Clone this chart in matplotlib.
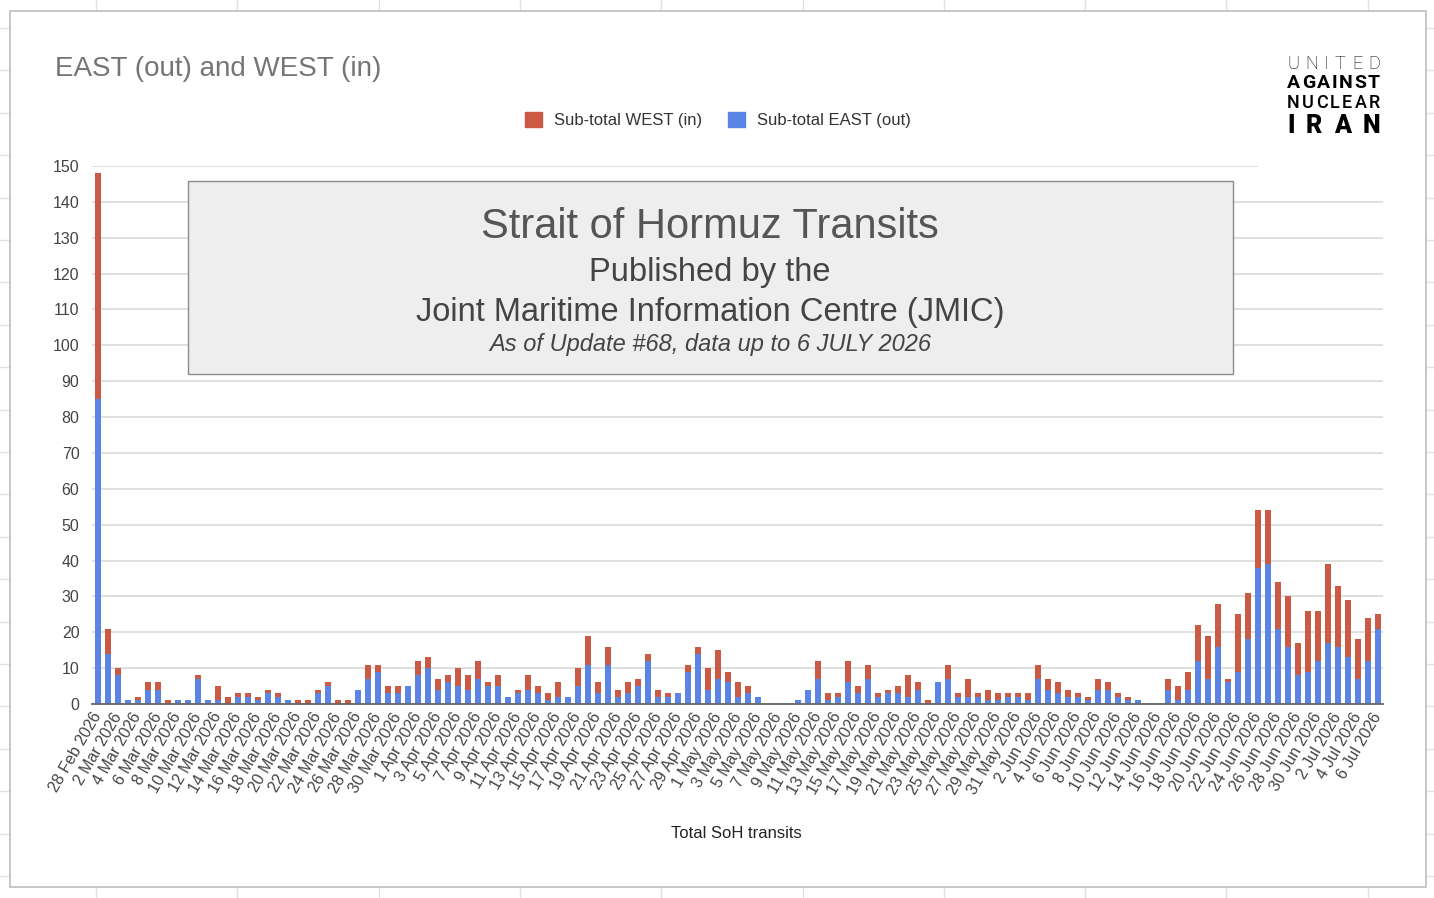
import numpy as np
import pandas as pd
import matplotlib
matplotlib.use('Agg')
import matplotlib.pyplot as plt
from matplotlib.patches import Rectangle, Patch
from matplotlib.lines import Line2D

plt.rcParams['font.family'] = ['Liberation Sans', 'DejaVu Sans']

# Data: one bar per day, 28 Feb 2026 .. 6 Jul 2026
dates = pd.date_range('2026-02-28', '2026-07-06', freq='D')
date_labels = [f"{d.day} {d.strftime('%b %Y')}" for d in dates]

east_out = [85, 14, 8, 1, 1, 4, 4, 0, 1, 1, 7, 1, 1, 0, 2, 2, 1, 3, 2, 1,
            0, 0, 3, 5, 0, 0, 4, 7, 9, 3, 3, 5, 8, 10, 4, 6, 5, 4, 7, 5,
            5, 2, 3, 4, 3, 1, 2, 2, 5, 11, 3, 11, 2, 3, 5, 12, 2, 2, 3, 9,
            14, 4, 7, 6, 2, 3, 2, 0, 0, 0, 1, 4, 7, 1, 2, 6, 3, 7, 2, 3,
            3, 2, 4, 0, 6, 7, 2, 2, 2, 1, 1, 2, 2, 1, 7, 4, 3, 2, 2, 1,
            4, 4, 2, 1, 1, 0, 0, 4, 1, 4, 12, 7, 16, 6, 9, 18, 38, 39, 21, 16,
            8, 9, 12, 17, 16, 13, 7, 12, 21]
west_in = [63, 7, 2, 0, 1, 2, 2, 1, 0, 0, 1, 0, 4, 2, 1, 1, 1, 1, 1, 0,
           1, 1, 1, 1, 1, 1, 0, 4, 2, 2, 2, 0, 4, 3, 3, 2, 5, 4, 5, 1,
           3, 0, 1, 4, 2, 2, 4, 0, 5, 8, 3, 5, 2, 3, 2, 2, 2, 1, 0, 2,
           2, 6, 8, 3, 4, 2, 0, 0, 0, 0, 0, 0, 5, 2, 1, 6, 2, 4, 1, 1,
           2, 6, 2, 1, 0, 4, 1, 5, 1, 3, 2, 1, 1, 2, 4, 3, 3, 2, 1, 1,
           3, 2, 1, 1, 0, 0, 0, 3, 4, 5, 10, 12, 12, 1, 16, 13, 16, 15, 13, 14,
           9, 17, 14, 22, 17, 16, 11, 12, 4]

y_ticks = list(range(0, 151, 10))

BLUE = '#5b85e4'
RED = '#cb5a45'

W, H = 1434, 898


def fx(px):
    return px / W


def fy(py):
    return 1 - py / H


fig = plt.figure(figsize=(W / 100, H / 100), dpi=100)

# spreadsheet cell grid behind the chart
for k in range(10):
    x = 96 + 141.3 * k
    fig.add_artist(Line2D([fx(x), fx(x)], [0, 1], color='#e2e2e2', lw=1, zorder=-3))
for k in range(21):
    y = 28 + 42.4 * k
    fig.add_artist(Line2D([0, 1], [fy(y), fy(y)], color='#e2e2e2', lw=1, zorder=-3))

# chart card
fig.add_artist(Rectangle((fx(10), fy(887)), fx(1426) - fx(10), fy(11) - fy(887),
                         transform=fig.transFigure, facecolor='white',
                         edgecolor='#bdbdbd', lw=1.2, zorder=-2))

ax = fig.add_axes([fx(92), fy(704), fx(1383) - fx(92), fy(166) - fy(704)])
ax.set_facecolor('none')

x = np.arange(len(dates))
ax.bar(x, east_out, width=0.68, color=BLUE, zorder=2)
ax.bar(x, west_in, width=0.68, bottom=east_out, color=RED, zorder=2)

ax.set_xlim(-0.6, len(dates) - 0.5)
ax.set_ylim(0, 150)
ax.set_yticks(y_ticks)
ax.grid(axis='y', color='#dcdcdc', lw=1.3)
ax.set_axisbelow(True)
for s in ['left', 'right', 'top']:
    ax.spines[s].set_visible(False)
ax.spines['bottom'].set_color('#666666')
ax.spines['bottom'].set_linewidth(1.3)
ax.spines['bottom'].set_zorder(3)

ax.tick_params(axis='y', length=0, pad=9, labelsize=11.5, labelcolor='#444444')
ax.set_xticks(x[::2])
ax.set_xticklabels(date_labels[::2])
ax.tick_params(axis='x', length=0, pad=7, labelsize=11.5, labelcolor='#444444')
for lbl in ax.get_xticklabels():
    lbl.set_rotation(60)
    lbl.set_ha('right')
    lbl.set_va('center')
    lbl.set_rotation_mode('anchor')

# titles and legend
fig.text(fx(55), fy(69), 'EAST (out) and WEST (in)', ha='left', va='center',
         fontsize=20, color='#757575')
fig.text(fx(736), fy(834), 'Total SoH transits', ha='center', va='center',
         fontsize=12, color='#222222')
handles = [Patch(color=RED, label='Sub-total WEST (in)'),
           Patch(color=BLUE, label='Sub-total EAST (out)')]
leg = fig.legend(handles=handles, loc='center', bbox_to_anchor=(fx(718), fy(120)),
                 ncol=2, frameon=False, fontsize=12, handlelength=1.0,
                 handleheight=1.0, handletextpad=0.7, columnspacing=1.6)
for t in leg.get_texts():
    t.set_color('#333333')

# overlay box
fig.add_artist(Rectangle((fx(188), fy(374)), fx(1233) - fx(188), fy(181) - fy(374),
                         transform=fig.transFigure, facecolor='#eeeeee',
                         edgecolor='#8a8a8a', lw=1, zorder=3))
fig.text(fx(710), fy(227), 'Strait of Hormuz Transits', ha='center', va='center',
         fontsize=30, color='#555555', zorder=4)
fig.text(fx(710), fy(272), 'Published by the', ha='center', va='center',
         fontsize=23.5, color='#444444', zorder=4)
fig.text(fx(710), fy(312), 'Joint Maritime Information Centre (JMIC)', ha='center',
         va='center', fontsize=23.5, color='#444444', zorder=4)
fig.text(fx(710), fy(344), 'As of Update #68, data up to 6 JULY 2026', ha='center',
         va='center', fontsize=17, style='italic', color='#444444', zorder=4)

# logo: letters spread evenly between x0 and x1
fig.add_artist(Rectangle((fx(1258), fy(172)), fx(1400) - fx(1258), fy(40) - fy(172),
                         transform=fig.transFigure, facecolor='white',
                         edgecolor='none', zorder=2))
renderer = fig.canvas.get_renderer()
logo = [('UNITED', 64, 1287, 1380, 13, 'light'),
        ('AGAINST', 83, 1287, 1380, 14, 'bold'),
        ('NUCLEAR', 103, 1287, 1380, 13, 'medium'),
        ('IRAN', 126, 1287, 1380, 18, 'black')]
for word, yy, x0, x1, size, weight in logo:
    chars = []
    for ch in word:
        t = fig.text(0, 0, ch, ha='left', va='center', fontsize=size,
                     fontweight=weight, family=['Roboto', 'DejaVu Sans'],
                     color='black', zorder=4)
        chars.append((t, t.get_window_extent(renderer).width))
    gap = (x1 - x0 - sum(w for _, w in chars)) / (len(chars) - 1)
    pos = x0
    for t, w in chars:
        t.set_position((fx(pos), fy(yy)))
        pos += w + gap

fig.savefig('out.png', dpi=100)
